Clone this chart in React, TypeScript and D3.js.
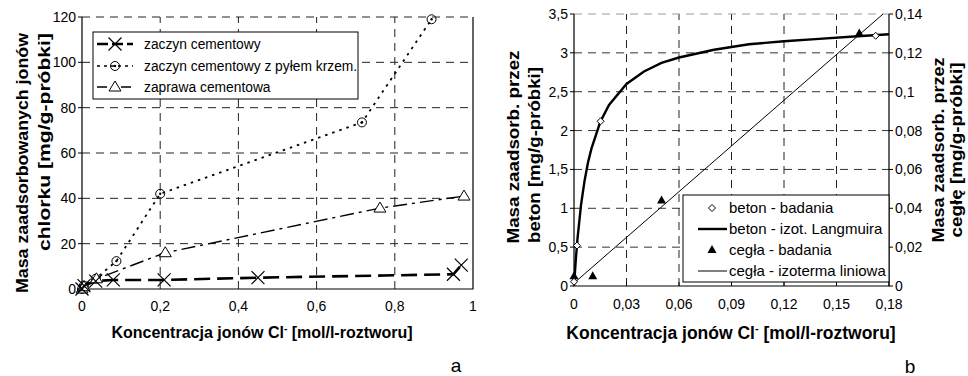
import * as d3 from "d3";

// chart a: adsorbed chloride vs concentration
const pasteX = [0, 0.005, 0.035, 0.08, 0.21, 0.45, 0.95, 0.97];
const pasteY = [0, 1.5, 3.5, 4, 4, 5, 6.5, 10.5];
const silicaX = [0, 0.005, 0.035, 0.088, 0.2, 0.716, 0.894];
const silicaY = [0, 1.5, 4.5, 12.3, 42, 73.5, 119];
const mortarX = [0, 0.005, 0.037, 0.213, 0.762, 0.977];
const mortarY = [0, 1, 4.5, 16, 35.7, 41];
const aXTicks = [0, 0.2, 0.4, 0.6, 0.8, 1];
const aYTicks = [0, 20, 40, 60, 80, 100, 120];
const aLegend = ["zaczyn cementowy", "zaczyn cementowy z pyłem krzem.", "zaprawa cementowa"];

// chart b: concrete (left axis) and brick (right axis)
const betonX = [0, 0.0017, 0.0152, 0.1724];
const betonY = [0.055, 0.52, 2.12, 3.22];
const langX = [0, 0.001, 0.002, 0.004, 0.006, 0.008, 0.01, 0.015, 0.02, 0.03, 0.04, 0.05, 0.06, 0.08, 0.1, 0.12, 0.14, 0.16, 0.18];
const langY = [0, 0.33, 0.61, 1.04, 1.35, 1.59, 1.77, 2.11, 2.33, 2.6, 2.76, 2.87, 2.94, 3.04, 3.11, 3.15, 3.18, 3.21, 3.24];
const ceglaX = [0, 0.0107, 0.05, 0.163];
const ceglaY = [0.005, 0.005, 0.044, 0.13];
const linX = [0, 0.1766];
const linY = [0.0015, 0.14];
const bXTicks = [0, 0.03, 0.06, 0.09, 0.12, 0.15, 0.18];
const bYTicks = [0, 0.5, 1, 1.5, 2, 2.5, 3, 3.5];
const bY2Ticks = [0, 0.02, 0.04, 0.06, 0.08, 0.1, 0.12, 0.14];
const bLegend = ["beton - badania", "beton - izot. Langmuira", "cegła - badania", "cegła - izoterma liniowa"];

const font = "'Liberation Sans', Arial, sans-serif";
const comma = (v: number) => String(v).replace(".", ",");
const zip = (xs: number[], ys: number[]) => xs.map((x, i) => [x, ys[i]] as [number, number]);

const XMark = ({ x, y }: { x: number; y: number }) => (
  <path d={`M${x - 6.5},${y - 6.5}L${x + 6.5},${y + 6.5}M${x - 6.5},${y + 6.5}L${x + 6.5},${y - 6.5}`} stroke="#000" strokeWidth={1.2} />
);
const Circ = ({ x, y }: { x: number; y: number }) => (
  <g>
    <circle cx={x} cy={y} r={4.5} fill="none" stroke="#000" strokeWidth={1} />
    <circle cx={x} cy={y} r={1.2} fill="#000" />
  </g>
);
const Tri = ({ x, y }: { x: number; y: number }) => (
  <path d={`M${x},${y - 6}L${x + 6},${y + 4}L${x - 6},${y + 4}Z`} fill="#fff" stroke="#000" strokeWidth={1} />
);
const Diamond = ({ x, y }: { x: number; y: number }) => (
  <path d={`M${x},${y - 3.5}L${x + 3.5},${y}L${x},${y + 3.5}L${x - 3.5},${y}Z`} fill="#fff" stroke="#000" strokeWidth={1} />
);
const FTri = ({ x, y }: { x: number; y: number }) => (
  <path d={`M${x},${y - 5}L${x + 4.5},${y + 3}L${x - 4.5},${y + 3}Z`} fill="#000" />
);

// rotated axis title squeezed to the measured length
const VTitle = ({ x, y, len, size, children }: { x: number; y: number; len: number; size: number; children: string }) => (
  <text transform={`translate(${x},${y}) rotate(-90)`} textAnchor="middle" fontSize={size} fontWeight="bold"
    textLength={len} lengthAdjust="spacingAndGlyphs">{children}</text>
);

function ChartA() {
  const x = d3.scaleLinear().domain([0, 1]).range([82, 473]);
  const y = d3.scaleLinear().domain([0, 120]).range([289, 17]);
  const line = d3.line<[number, number]>().x(d => x(d[0])).y(d => y(d[1]));
  const lx = 97, ly = [44, 66, 87];
  return (
    <g fontFamily={font}>
      {aXTicks.slice(1, -1).map(t => (
        <line key={"gx" + t} x1={x(t)} x2={x(t)} y1={y(0)} y2={y(120)} stroke="#222" strokeDasharray="8,6" />
      ))}
      {aYTicks.slice(1).map(t => (
        <line key={"gy" + t} x1={x(0)} x2={x(1)} y1={y(t)} y2={y(t)} stroke="#222" strokeDasharray="8,6" />
      ))}
      <path d={`M${x(0)},${y(120)}V${y(0)}H${x(1)}V${y(120)}`} fill="none" stroke="#000" strokeWidth={1.2} />
      {aYTicks.map(t => (
        <g key={"ty" + t}>
          <line x1={x(0) - 4} x2={x(0)} y1={y(t)} y2={y(t)} stroke="#000" />
          <text x={x(0) - 6} y={y(t) + 5} fontSize={14} textAnchor="end">{t}</text>
        </g>
      ))}
      {aXTicks.map(t => (
        <text key={"tx" + t} x={x(t)} y={y(0) + 22} fontSize={14} textAnchor="middle">{comma(t)}</text>
      ))}
      <path d={line(zip(silicaX, silicaY)) ?? ""} fill="none" stroke="#000" strokeWidth={1.8} strokeDasharray="2.5,5" />
      <path d={line(zip(mortarX, mortarY)) ?? ""} fill="none" stroke="#000" strokeWidth={1.4} strokeDasharray="14,5,3,5" />
      <path d={line(zip(pasteX, pasteY)) ?? ""} fill="none" stroke="#000" strokeWidth={2.6} strokeDasharray="16,7" />
      {zip(silicaX, silicaY).map((d, i) => <Circ key={"c" + i} x={x(d[0])} y={y(d[1])} />)}
      {zip(mortarX, mortarY).map((d, i) => <Tri key={"t" + i} x={x(d[0])} y={y(d[1])} />)}
      {zip(pasteX, pasteY).map((d, i) => <XMark key={"x" + i} x={x(d[0])} y={y(d[1])} />)}
      <rect x={93} y={32} width={265} height={67} fill="#fff" stroke="#000" />
      <line x1={lx} x2={lx + 36} y1={ly[0]} y2={ly[0]} stroke="#000" strokeWidth={2.6} strokeDasharray="11,4" />
      <XMark x={lx + 18} y={ly[0]} />
      <line x1={lx} x2={lx + 36} y1={ly[1]} y2={ly[1]} stroke="#000" strokeWidth={1.4} strokeDasharray="3,4" />
      <Circ x={lx + 18} y={ly[1]} />
      <line x1={lx} x2={lx + 36} y1={ly[2]} y2={ly[2]} stroke="#000" strokeWidth={1.4} strokeDasharray="10,5,4,5" />
      <Tri x={lx + 18} y={ly[2]} />
      {aLegend.map((s, i) => (
        <text key={s} x={144} y={ly[i] + 4.5} fontSize={13.8}>{s}</text>
      ))}
      <VTitle x={28} y={163} len={260} size={16.5}>Masa zaadsorbowanych jonów</VTitle>
      <VTitle x={50} y={142} len={218} size={16.5}>chlorku [mg/g-próbki]</VTitle>
      <text x={262} y={338} textAnchor="middle" fontSize={16} fontWeight="bold">
        Koncentracja jonów Cl<tspan fontSize={10} dy={-6}>-</tspan><tspan dy={6}> [mol/l-roztworu]</tspan>
      </text>
      <text x={456} y={372} textAnchor="middle" fontSize={19}>a</text>
    </g>
  );
}

function ChartB() {
  const x = d3.scaleLinear().domain([0, 0.18]).range([574, 889]);
  const y = d3.scaleLinear().domain([0, 3.5]).range([286, 14]);
  const y2 = d3.scaleLinear().domain([0, 0.14]).range([286, 14]);
  const line = d3.line<[number, number]>().x(d => x(d[0])).y(d => y(d[1]));
  const line2 = d3.line<[number, number]>().x(d => x(d[0])).y(d => y2(d[1]));
  const ly = [208, 229, 250, 271];
  return (
    <g fontFamily={font}>
      <defs>
        <clipPath id="clipb"><rect x={574} y={14} width={315} height={272} /></clipPath>
      </defs>
      {bXTicks.slice(1, -1).map(t => (
        <line key={"gx" + t} x1={x(t)} x2={x(t)} y1={y(0)} y2={y(3.5)} stroke="#222" strokeDasharray="8,6" />
      ))}
      {bYTicks.slice(1).map(t => (
        <line key={"gy" + t} x1={x(0)} x2={x(0.18)} y1={y(t)} y2={y(t)} stroke={t === 3.5 ? "#999" : "#333"} strokeDasharray="8,6" />
      ))}
      <path d={`M${x(0)},${y(3.5)}V${y(0)}H${x(0.18)}V${y(3.5)}`} fill="none" stroke="#000" strokeWidth={1.2} />
      {bYTicks.map(t => (
        <g key={"ty" + t}>
          <line x1={x(0) - 4} x2={x(0)} y1={y(t)} y2={y(t)} stroke="#000" />
          <text x={x(0) - 6} y={y(t) + 5} fontSize={14} textAnchor="end">{comma(t)}</text>
        </g>
      ))}
      {bY2Ticks.map(t => (
        <g key={"ty2" + t}>
          <line x1={x(0.18)} x2={x(0.18) + 4} y1={y2(t)} y2={y2(t)} stroke="#000" />
          <text x={x(0.18) + 6} y={y2(t) + 5} fontSize={14}>{comma(t)}</text>
        </g>
      ))}
      {bXTicks.map(t => (
        <g key={"tx" + t}>
          <line x1={x(t)} x2={x(t)} y1={y(0)} y2={y(0) - 4} stroke="#000" />
          <text x={x(t)} y={y(0) + 23} fontSize={14} textAnchor="middle">{comma(t)}</text>
        </g>
      ))}
      <g clipPath="url(#clipb)">
        <path d={line2(zip(linX, linY)) ?? ""} fill="none" stroke="#000" strokeWidth={1} />
        <path d={line(zip(langX, langY)) ?? ""} fill="none" stroke="#000" strokeWidth={2.4} />
      </g>
      {zip(ceglaX, ceglaY).map((d, i) => <FTri key={"f" + i} x={x(d[0])} y={y2(d[1])} />)}
      {zip(betonX, betonY).map((d, i) => <Diamond key={"d" + i} x={x(d[0])} y={y(d[1])} />)}
      <rect x={683} y={195} width={206} height={87} fill="#fff" stroke="#000" />
      <Diamond x={712} y={ly[0]} />
      <line x1={698} x2={727} y1={ly[1]} y2={ly[1]} stroke="#000" strokeWidth={2.4} />
      <FTri x={712} y={ly[2]} />
      <line x1={698} x2={727} y1={ly[3]} y2={ly[3]} stroke="#000" strokeWidth={1} />
      {bLegend.map((s, i) => (
        <text key={s} x={729} y={ly[i] + 5} fontSize={15}>{s}</text>
      ))}
      <VTitle x={519} y={147} len={193} size={17}>Masa zaadsorb. przez</VTitle>
      <VTitle x={540} y={155} len={176} size={17}>beton [mg/g-próbki]</VTitle>
      <VTitle x={944} y={150} len={185} size={16}>Masa zaadsorb. przez</VTitle>
      <VTitle x={962} y={150} len={175} size={16}>cegłę [mg/g-próbki]</VTitle>
      <text x={731} y={339} textAnchor="middle" fontSize={17.5} fontWeight="bold">
        Koncentracja jonów Cl<tspan fontSize={11} dy={-7}>-</tspan><tspan dy={7}> [mol/l-roztworu]</tspan>
      </text>
      <text x={910} y={373} textAnchor="middle" fontSize={19}>b</text>
    </g>
  );
}

export default function App() {
  return (
    <div style={{ position: "absolute", left: 0, top: 0 }}>
      <svg width={968} height={376} style={{ display: "block", background: "#fff" }}>
        <ChartA />
        <ChartB />
      </svg>
    </div>
  );
}
